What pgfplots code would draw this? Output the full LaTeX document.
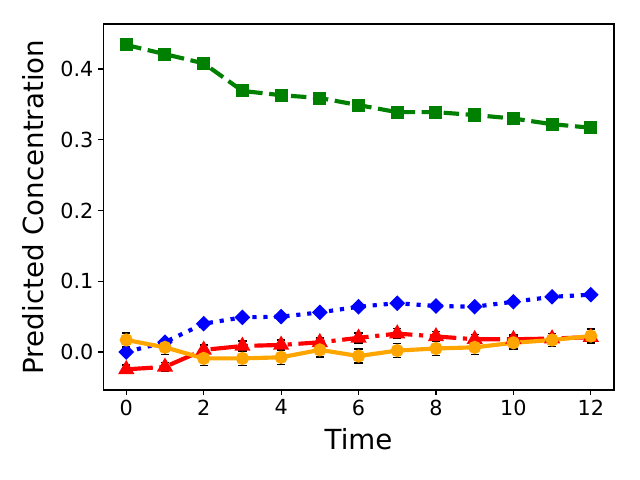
\documentclass[border=0pt]{standalone}
\usepackage{pgfplots}
\pgfplotsset{compat=1.18}
\usepackage{fontspec}
\setmainfont{DejaVu Sans}
\begin{document}
\begin{tikzpicture}
\path (0,0) rectangle (460.8bp,345.6bp);
\begin{axis}[
  at={(74.2bp,64.8bp)}, anchor=south west,
  scale only axis, width=367.9bp, height=263.5bp,
  xmin=-0.6, xmax=12.6, ymin=-0.0537, ymax=0.4636,
  xtick={0,2,4,6,8,10,12},
  ytick={0,0.1,0.2,0.3,0.4},
  yticklabel style={/pgf/number format/.cd, fixed, fixed zerofill, precision=1},
  /pgf/number format/assume math mode=true,
  tick label style={font=\fontsize{15}{18}\selectfont},
  xlabel={Time}, ylabel={Predicted Concentration},
  label style={font=\fontsize{20}{24}\selectfont},
  xlabel style={yshift=-2.5pt},
  ylabel style={yshift=5pt},
  tick align=outside, xtick pos=left, ytick pos=left,
  major tick length=3.5pt,
  every tick/.style={black, line width=0.8pt},
  axis line style={line width=0.8pt},
  error bars/y dir=both, error bars/y explicit,
  error bars/error bar style={black, line width=1pt, solid},
  error bars/error mark options={black, rotate=90, mark size=3pt, line width=1pt, solid},
]
% green
\addplot[color={rgb,255:red,0;green,128;blue,0}, line width=3pt, dash pattern=on 11.1pt off 4.8pt, mark=square*, mark size=3.2pt, mark options={solid}]
coordinates {(0,0.434)+-(0,0.003) (1,0.421)+-(0,0.003) (2,0.408)+-(0,0.003) (3,0.369)+-(0,0.003) (4,0.363)+-(0,0.003) (5,0.359)+-(0,0.003) (6,0.349)+-(0,0.003) (7,0.339)+-(0,0.003) (8,0.339)+-(0,0.003) (9,0.335)+-(0,0.003) (10,0.330)+-(0,0.003) (11,0.322)+-(0,0.003) (12,0.317)+-(0,0.003)};
% blue
\addplot[color=blue, line width=3pt, dash pattern=on 3pt off 4.95pt, mark=square*, mark size=2.5pt, mark options={solid, rotate=45}]
coordinates {(0,0.000)+-(0,0.003) (1,0.014)+-(0,0.003) (2,0.040)+-(0,0.003) (3,0.049)+-(0,0.003) (4,0.050)+-(0,0.003) (5,0.056)+-(0,0.003) (6,0.064)+-(0,0.003) (7,0.069)+-(0,0.003) (8,0.065)+-(0,0.003) (9,0.064)+-(0,0.003) (10,0.071)+-(0,0.003) (11,0.078)+-(0,0.003) (12,0.081)+-(0,0.003)};
% red
\addplot[color=red, line width=3pt, dash pattern=on 19.2pt off 4.8pt on 3pt off 4.8pt, mark=triangle*, mark size=3.8pt, mark options={solid}]
coordinates {(0,-0.0245)+-(0,0.006) (1,-0.021)+-(0,0.006) (2,0.003)+-(0,0.007) (3,0.0085)+-(0,0.007) (4,0.010)+-(0,0.007) (5,0.0137)+-(0,0.006) (6,0.020)+-(0,0.007) (7,0.026)+-(0,0.007) (8,0.022)+-(0,0.007) (9,0.018)+-(0,0.007) (10,0.018)+-(0,0.006) (11,0.019)+-(0,0.007) (12,0.021)+-(0,0.007)};
% orange
\addplot[color={rgb,255:red,255;green,165;blue,0}, line width=3pt, solid, mark=*, mark size=3.2pt]
coordinates {(0,0.017)+-(0,0.010) (1,0.0066)+-(0,0.010) (2,-0.009)+-(0,0.010) (3,-0.009)+-(0,0.010) (4,-0.0075)+-(0,0.010) (5,0.003)+-(0,0.010) (6,-0.0057)+-(0,0.010) (7,0.002)+-(0,0.010) (8,0.005)+-(0,0.010) (9,0.0066)+-(0,0.010) (10,0.013)+-(0,0.009) (11,0.017)+-(0,0.009) (12,0.0226)+-(0,0.010)};
\end{axis}
\end{tikzpicture}
\end{document}
